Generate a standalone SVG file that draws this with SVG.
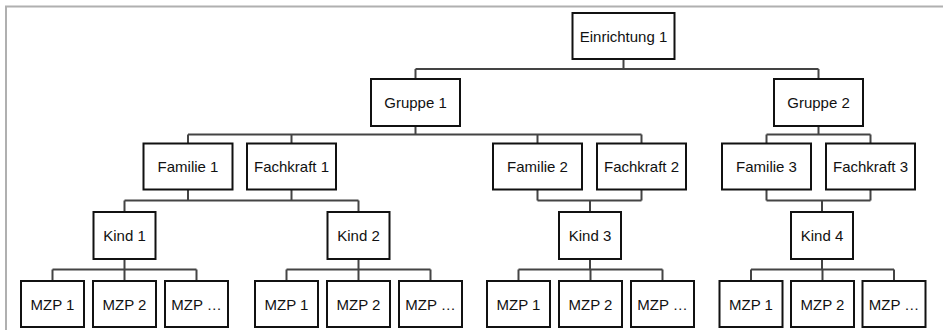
<svg xmlns="http://www.w3.org/2000/svg" width="943" height="330" viewBox="0 0 943 330">
<style>
.box{fill:#fff;stroke:#111;stroke-width:2}
.lbl{font-family:"Liberation Sans",Arial,sans-serif;font-size:15px;fill:#111;text-anchor:middle;dominant-baseline:central}
.con{fill:none;stroke:#444;stroke-width:2}
.frame{fill:none;stroke:#b0b0b0;stroke-width:2}
</style>
<rect width="943" height="330" fill="#fff"/>
<path class="frame" d="M6,330 V6.5 H943"/>
<g id="connectors">
<path class="con" d="M623.5,59 V69 M415.5,69 H818.5 M415.5,69 V79 M818.5,69 V79"/>
<path class="con" d="M415.5,126 V134.5 M188,134.5 H641.5 M188,134.5 V143.5 M291.5,134.5 V143.5 M537.5,134.5 V143.5 M641.5,134.5 V143.5"/>
<path class="con" d="M818.5,126 V134.5 M766.5,134.5 H870.5 M766.5,134.5 V143.5 M870.5,134.5 V143.5"/>
<path class="con" d="M188,189.5 V200.5 M291.5,189.5 V200.5 M124.5,200.5 H358.5 M124.5,200.5 V212 M358.5,200.5 V212"/>
<path class="con" d="M537.5,189.5 V200.5 M641.5,189.5 V200.5 M537.5,200.5 H641.5 M590,200.5 V212"/>
<path class="con" d="M766.5,189.5 V200.5 M870.5,189.5 V200.5 M766.5,200.5 H870.5 M822,200.5 V212"/>
<path class="con" d="M124.5,259 V269.5 M52.5,269.5 H196.5 M52.5,269.5 V281 M124.5,269.5 V281 M196.5,269.5 V281"/>
<path class="con" d="M358.5,259 V269.5 M286.5,269.5 H430.5 M286.5,269.5 V281 M358.5,269.5 V281 M430.5,269.5 V281"/>
<path class="con" d="M590,259 V269.5 M518.5,269.5 H662.5 M518.5,269.5 V281 M590.5,269.5 V281 M662.5,269.5 V281"/>
<path class="con" d="M822,259 V269.5 M751,269.5 H894 M751,269.5 V281 M822.5,269.5 V281 M894,269.5 V281"/>
</g>
<g id="einrichtung1"><rect class="box" x="572.5" y="13" width="102" height="46"/><text class="lbl" x="623.5" y="36">Einrichtung 1</text></g>
<g id="gruppe1"><rect class="box" x="371" y="79" width="89" height="47"/><text class="lbl" x="415.5" y="102.5">Gruppe 1</text></g>
<g id="gruppe2"><rect class="box" x="774" y="79" width="89" height="47"/><text class="lbl" x="818.5" y="102.5">Gruppe 2</text></g>
<g id="familie1"><rect class="box" x="143.5" y="143.5" width="89" height="46"/><text class="lbl" x="188" y="166.5">Familie 1</text></g>
<g id="fachkraft1"><rect class="box" x="247" y="143.5" width="89" height="46"/><text class="lbl" x="291.5" y="166.5">Fachkraft 1</text></g>
<g id="familie2"><rect class="box" x="493" y="143.5" width="89" height="46"/><text class="lbl" x="537.5" y="166.5">Familie 2</text></g>
<g id="fachkraft2"><rect class="box" x="597" y="143.5" width="89" height="46"/><text class="lbl" x="641.5" y="166.5">Fachkraft 2</text></g>
<g id="familie3"><rect class="box" x="722" y="143.5" width="89" height="46"/><text class="lbl" x="766.5" y="166.5">Familie 3</text></g>
<g id="fachkraft3"><rect class="box" x="826" y="143.5" width="89" height="46"/><text class="lbl" x="870.5" y="166.5">Fachkraft 3</text></g>
<g id="kind1"><rect class="box" x="93.5" y="212" width="62" height="47"/><text class="lbl" x="124.5" y="235.5">Kind 1</text></g>
<g id="kind2"><rect class="box" x="327.5" y="212" width="62" height="47"/><text class="lbl" x="358.5" y="235.5">Kind 2</text></g>
<g id="kind3"><rect class="box" x="559" y="212" width="62" height="47"/><text class="lbl" x="590" y="235.5">Kind 3</text></g>
<g id="kind4"><rect class="box" x="791" y="212" width="62" height="47"/><text class="lbl" x="822" y="235.5">Kind 4</text></g>
<g id="k1_mzp1"><rect class="box" x="21" y="281" width="63" height="46"/><text class="lbl" x="52.5" y="304">MZP 1</text></g>
<g id="k1_mzp2"><rect class="box" x="93" y="281" width="63" height="46"/><text class="lbl" x="124.5" y="304">MZP 2</text></g>
<g id="k1_mzp3"><rect class="box" x="165" y="281" width="63" height="46"/><text class="lbl" x="196.5" y="304">MZP …</text></g>
<g id="k2_mzp1"><rect class="box" x="255" y="281" width="63" height="46"/><text class="lbl" x="286.5" y="304">MZP 1</text></g>
<g id="k2_mzp2"><rect class="box" x="327" y="281" width="63" height="46"/><text class="lbl" x="358.5" y="304">MZP 2</text></g>
<g id="k2_mzp3"><rect class="box" x="399" y="281" width="63" height="46"/><text class="lbl" x="430.5" y="304">MZP …</text></g>
<g id="k3_mzp1"><rect class="box" x="487" y="281" width="63" height="46"/><text class="lbl" x="518.5" y="304">MZP 1</text></g>
<g id="k3_mzp2"><rect class="box" x="559" y="281" width="63" height="46"/><text class="lbl" x="590.5" y="304">MZP 2</text></g>
<g id="k3_mzp3"><rect class="box" x="631" y="281" width="63" height="46"/><text class="lbl" x="662.5" y="304">MZP …</text></g>
<g id="k4_mzp1"><rect class="box" x="719.5" y="281" width="63" height="46"/><text class="lbl" x="751" y="304">MZP 1</text></g>
<g id="k4_mzp2"><rect class="box" x="791" y="281" width="63" height="46"/><text class="lbl" x="822.5" y="304">MZP 2</text></g>
<g id="k4_mzp3"><rect class="box" x="862.5" y="281" width="63" height="46"/><text class="lbl" x="894" y="304">MZP …</text></g>
</svg>
